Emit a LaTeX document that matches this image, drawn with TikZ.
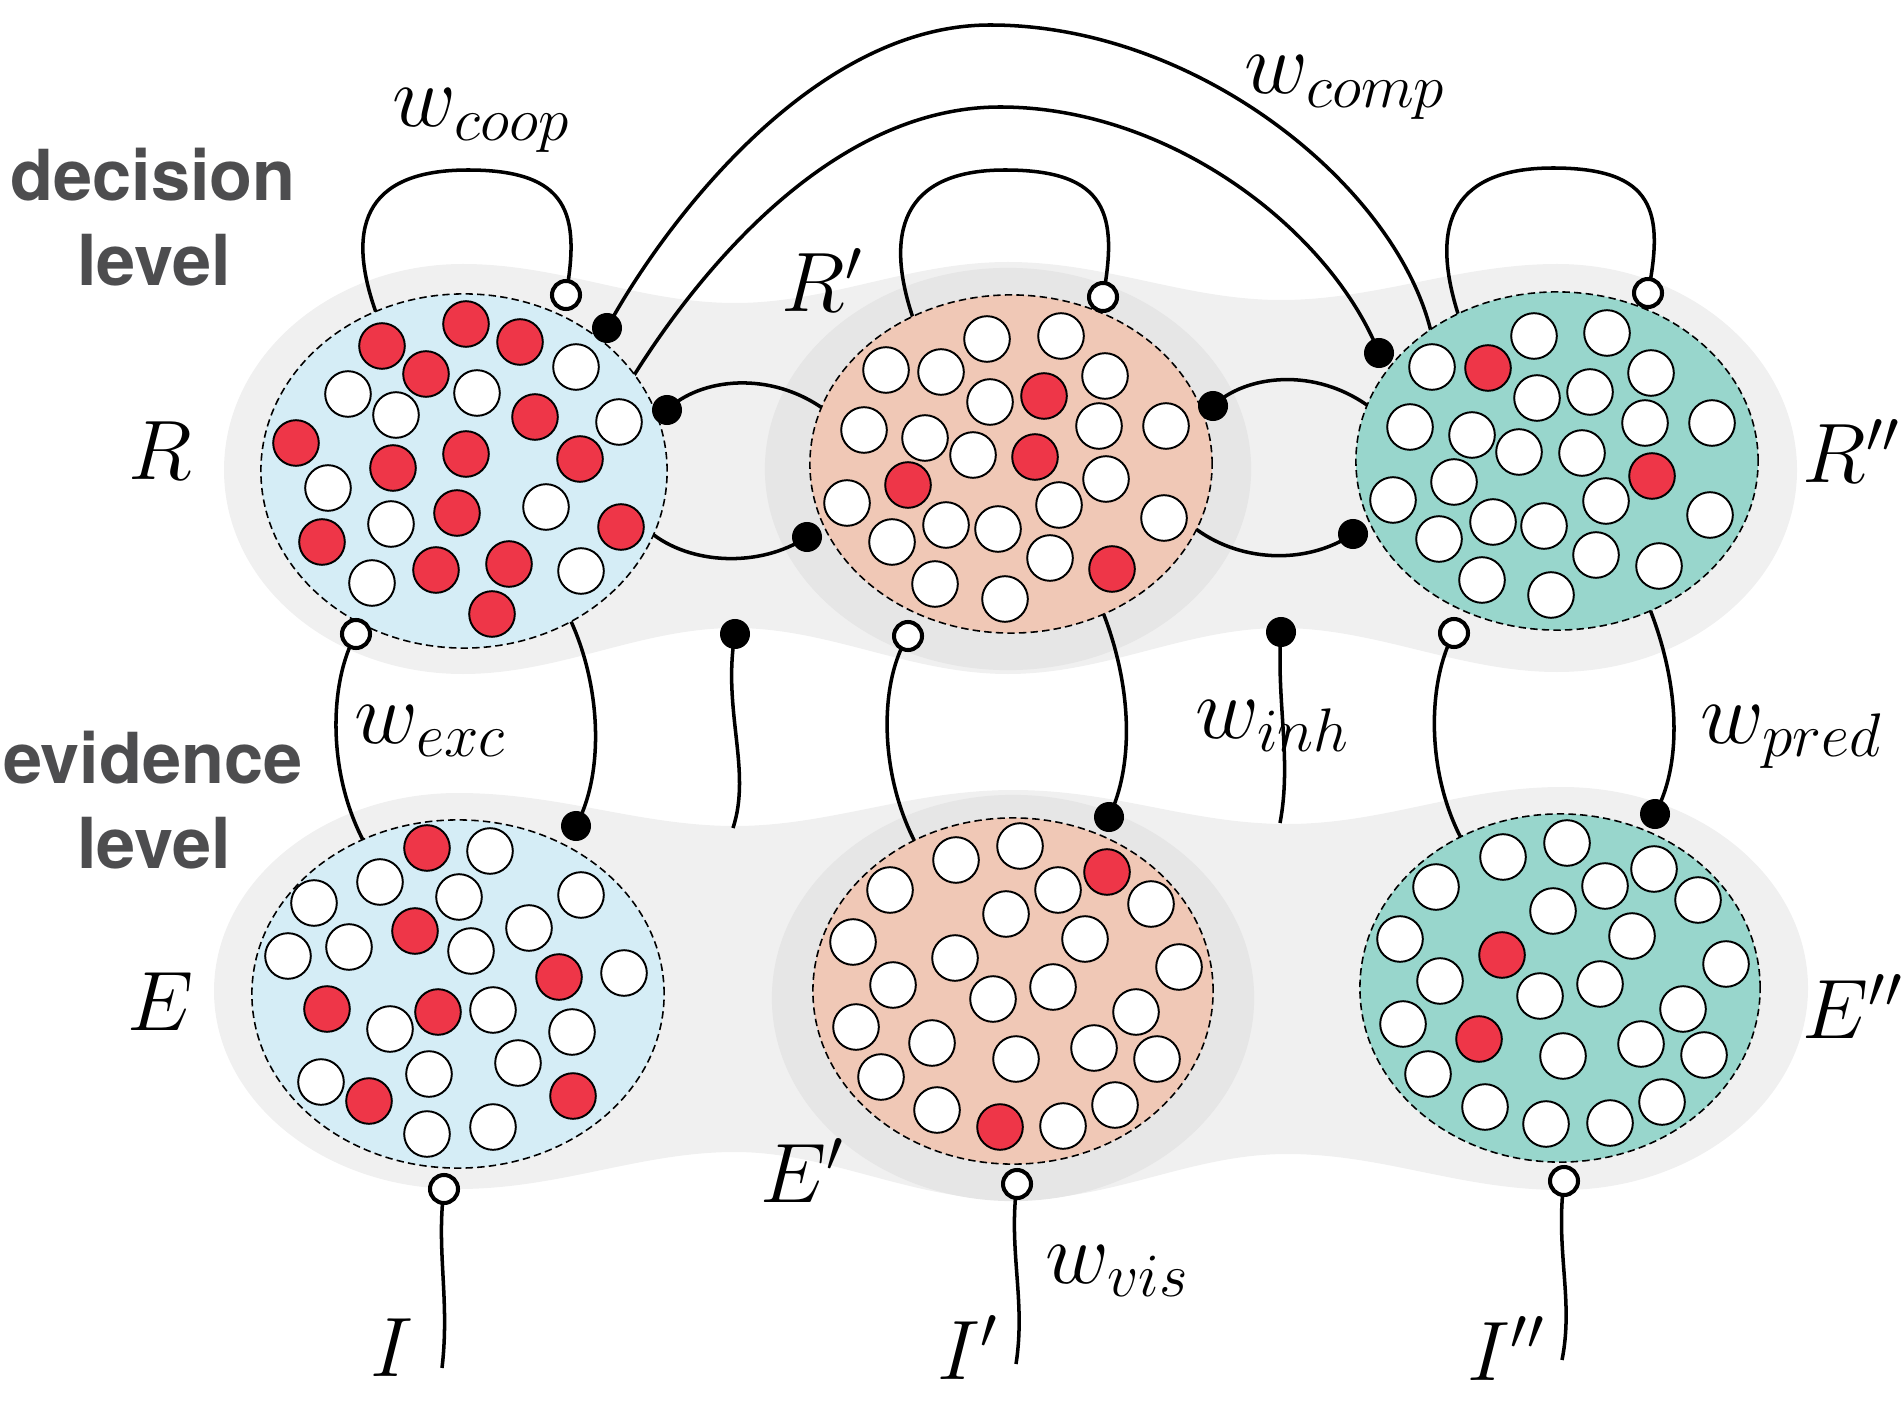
\documentclass[tikz,border=0pt]{standalone}
\usepackage{fix-cm}
\usepackage{fontspec}
\newfontfamily\lvlfont{TeX Gyre Heros}
\usetikzlibrary{shapes.geometric}
\definecolor{lg}{HTML}{F0F0F0}
\definecolor{dg}{HTML}{E6E6E6}
\definecolor{pblue}{HTML}{D5EDF6}
\definecolor{ppeach}{HTML}{F0C8B6}
\definecolor{pteal}{HTML}{98D6CC}
\definecolor{nr}{HTML}{EE3648}
\definecolor{nw}{HTML}{FFFFFF}
\definecolor{lvlgray}{HTML}{4D4D4F}
\tikzset{
  conn/.style={line width=1.0pt},
  oterm/.style={circle, draw=black, fill=white, line width=1.15pt, minimum size=0.28cm, inner sep=0pt},
  bterm/.style={circle, fill=black, minimum size=0.30cm, inner sep=0pt},
  pop/.style={ellipse, draw=black, line width=0.45pt, dash pattern=on 2.1pt off 1.2pt, inner sep=0pt},
  neuron/.style={draw=black, line width=0.55pt},
  lvl/.style={font=\lvlfont\bfseries\fontsize{20}{24}\selectfont, text=lvlgray, inner sep=0pt, anchor=base},
  mlab/.style={anchor=base west, inner sep=0pt, font=\fontsize{24}{28}\selectfont},
  wlab/.style={anchor=base west, inner sep=0pt, font=\fontsize{25}{30}\selectfont}
}
\begin{document}
\begin{tikzpicture}[x=0.01cm, y=-0.01cm]
\useasboundingbox (0,0) rectangle (1904,1416);
% ---------- backgrounds ----------
\fill[lg] (224,470) .. controls (224,356) and (331,264) .. (463,264)
  .. controls (560,264) and (640,303) .. (735,303)
  .. controls (830,303) and (910,262) .. (1008,262)
  .. controls (1106,262) and (1186,300) .. (1281,300)
  .. controls (1376,300) and (1460,264) .. (1557,264)
  .. controls (1689,264) and (1797,357) .. (1797,470)
  .. controls (1797,583) and (1689,672) .. (1557,672)
  .. controls (1460,672) and (1376,628) .. (1281,628)
  .. controls (1186,628) and (1106,674) .. (1008,674)
  .. controls (910,674) and (830,628) .. (735,628)
  .. controls (640,628) and (560,674) .. (463,674)
  .. controls (331,674) and (224,584) .. (224,470) -- cycle;
\fill[lg] (214,991) .. controls (214,882) and (323,793) .. (458,793)
  .. controls (560,793) and (640,826) .. (735,826)
  .. controls (830,826) and (910,790) .. (1013,790)
  .. controls (1116,790) and (1190,824) .. (1287,824)
  .. controls (1384,824) and (1460,787) .. (1562,787)
  .. controls (1698,787) and (1808,877) .. (1808,988)
  .. controls (1808,1099) and (1698,1190) .. (1562,1190)
  .. controls (1460,1190) and (1384,1154) .. (1287,1154)
  .. controls (1190,1154) and (1116,1200) .. (1013,1200)
  .. controls (910,1200) and (830,1152) .. (735,1152)
  .. controls (640,1152) and (560,1189) .. (458,1189)
  .. controls (323,1189) and (214,1100) .. (214,991) -- cycle;
\fill[dg] (1008,469) ellipse [x radius=2.43cm, y radius=2.01cm];
\fill[dg] (1013,998) ellipse [x radius=2.41cm, y radius=2.03cm];
% ---------- coordinates ----------
\coordinate (Rct) at (566,295);   \coordinate (Rcb) at (356,634);
\coordinate (Rpct) at (1103,297); \coordinate (Rpcb) at (908,636);
\coordinate (Rppct) at (1648,293); \coordinate (Rppcb) at (1454,633);
\coordinate (Ec) at (444,1189); \coordinate (Epc) at (1017,1184); \coordinate (Eppc) at (1564,1181);
\coordinate (Rd1) at (607,328); \coordinate (Rd2) at (667,410);
\coordinate (Rpd1) at (807,537); \coordinate (Rpd2) at (1213,406);
\coordinate (Rppd1) at (1379,353); \coordinate (Rppd2) at (1353,534);
\coordinate (Ed) at (576,826); \coordinate (Epd) at (1109,817); \coordinate (Eppd) at (1655,814);
\coordinate (inh1) at (735,634); \coordinate (inh2) at (1281,632);
\coordinate (Rlin) at (378,318); \coordinate (Rplin) at (913,318); \coordinate (Rpplin) at (1460,320);
\coordinate (Rout1) at (625,390); \coordinate (Rppin1) at (1432,336);
\coordinate (Rpin1) at (825,410); \coordinate (Rout2) at (650,532);
\coordinate (Rppin2) at (1371,408); \coordinate (Rpout2) at (1192,526);
\coordinate (Rout3) at (568,615); \coordinate (Rpout3) at (1102,610); \coordinate (Rppout3) at (1649,607);
\coordinate (Ein1) at (364,842); \coordinate (Epin1) at (915,842); \coordinate (Eppin1) at (1462,840);
\coordinate (inh1end) at (733,828); \coordinate (inh2end) at (1280,823);
\coordinate (Iend) at (442,1368); \coordinate (Ipend) at (1016,1364); \coordinate (Ippend) at (1562,1360);
% ---------- connectors ----------
\draw[conn] (Rlin) .. controls (345,230) and (362,170) .. (468,170) .. controls (570,170) and (580,215) .. (Rct);
\draw[conn] (Rplin) .. controls (885,235) and (900,170) .. (1005,170) .. controls (1108,170) and (1118,215) .. (Rpct);
\draw[conn] (Rpplin) .. controls (1430,230) and (1447,168) .. (1553,168) .. controls (1655,168) and (1664,212) .. (Rppct);
\draw[conn] (Rd1) .. controls (660,230) and (810,25) .. (990,25) .. controls (1200,25) and (1400,190) .. (Rppin1);
\draw[conn] (Rout1) .. controls (682,295) and (820,107) .. (1000,107) .. controls (1170,107) and (1330,230) .. (Rppd1);
\draw[conn] (Rd2) .. controls (700,378) and (770,370) .. (Rpin1);
\draw[conn] (Rout2) .. controls (690,565) and (760,568) .. (Rpd1);
\draw[conn] (Rpd2) .. controls (1245,375) and (1315,366) .. (Rppin2);
\draw[conn] (Rpout2) .. controls (1237,562) and (1305,566) .. (Rppd2);
\draw[conn] (Rcb) .. controls (330,680) and (326,770) .. (Ein1);
\draw[conn] (Rout3) .. controls (600,680) and (606,770) .. (Ed);
\draw[conn] (Rpcb) .. controls (880,680) and (878,770) .. (Epin1);
\draw[conn] (Rpout3) .. controls (1130,680) and (1136,760) .. (Epd);
\draw[conn] (Rppcb) .. controls (1428,680) and (1425,770) .. (Eppin1);
\draw[conn] (Rppout3) .. controls (1678,680) and (1684,760) .. (Eppd);
\draw[conn] (inh1) .. controls (722,710) and (752,770) .. (inh1end);
\draw[conn] (inh2) .. controls (1276,700) and (1292,760) .. (inh2end);
\draw[conn] (Ec) .. controls (436,1250) and (450,1300) .. (Iend);
\draw[conn] (Epc) .. controls (1008,1250) and (1026,1300) .. (Ipend);
\draw[conn] (Eppc) .. controls (1555,1250) and (1574,1300) .. (Ippend);
% ---------- populations ----------
\node[pop, fill=pblue, minimum width=4.06cm, minimum height=3.54cm] (R) at (464,471) {};
\node[pop, fill=ppeach, minimum width=4.02cm, minimum height=3.38cm] (Rp) at (1011,464) {};
\node[pop, fill=pteal, minimum width=4.02cm, minimum height=3.38cm] (Rpp) at (1557,461) {};
\node[pop, fill=pblue, minimum width=4.12cm, minimum height=3.48cm] (E) at (458,994) {};
\node[pop, fill=ppeach, minimum width=4.00cm, minimum height=3.46cm] (Ep) at (1013,991) {};
\node[pop, fill=pteal, minimum width=4.00cm, minimum height=3.48cm] (Epp) at (1560,988) {};
% neurons
\foreach \x/\y/\c in {382/346/r, 466/324/r, 520/342/r, 426/374/r, 576/367/w, 348/394/w, 396/415/w, 477/393/w, 535/417/r, 619/422/w, 296/443/r, 393/468/r, 466/454/r, 580/459/r, 328/488/w, 391/524/w, 457/513/r, 546/507/w, 621/527/r, 322/542/r, 372/583/w, 436/570/r, 509/564/r, 581/571/w, 492/614/r,
 987/339/w, 1061/336/w, 886/370/w, 941/372/w, 1105/376/w, 990/402/w, 1044/396/r, 864/430/w, 925/438/w, 973/455/w, 1035/457/r, 1099/426/w, 1166/426/w, 908/485/r, 847/503/w, 1106/479/w, 1059/505/w, 1164/518/w, 946/525/w, 998/529/w, 892/542/w, 1050/558/w, 1112/569/r, 935/584/w, 1005/599/w,
 1534/336/w, 1607/333/w, 1432/367/w, 1488/368/r, 1651/373/w, 1537/398/w, 1590/392/w, 1410/427/w, 1472/435/w, 1519/452/w, 1582/453/w, 1645/423/w, 1712/423/w, 1454/482/w, 1393/500/w, 1652/476/r, 1606/501/w, 1710/515/w, 1493/522/w, 1544/526/w, 1439/539/w, 1596/555/w, 1659/566/w, 1482/580/w, 1551/595/w,
 427/848/r, 490/851/w, 380/882/w, 314/903/w, 459/897/w, 581/895/w, 415/931/r, 288/956/w, 349/947/w, 471/951/w, 529/928/w, 559/977/r, 624/973/w, 327/1009/r, 390/1029/w, 438/1012/r, 493/1010/w, 572/1032/w, 518/1063/w, 321/1082/w, 369/1101/r, 429/1074/w, 573/1096/r, 427/1134/w, 493/1127/w,
 1020/846/w, 956/860/w, 890/890/w, 1058/890/w, 1107/872/r, 1151/904/w, 1006/914/w, 853/942/w, 955/958/w, 1085/939/w, 1179/967/w, 893/985/w, 993/999/w, 1053/987/w, 1136/1012/w, 856/1027/w, 932/1043/w, 1016/1059/w, 1094/1048/w, 1157/1059/w, 881/1077/w, 937/1110/w, 1000/1127/r, 1063/1126/w, 1115/1105/w,
 1567/843/w, 1503/857/w, 1436/887/w, 1605/886/w, 1654/869/w, 1698/900/w, 1553/911/w, 1400/939/w, 1502/955/r, 1632/936/w, 1726/964/w, 1440/981/w, 1540/996/w, 1600/984/w, 1683/1009/w, 1403/1024/w, 1479/1039/r, 1563/1056/w, 1641/1044/w, 1704/1055/w, 1428/1074/w, 1485/1107/w, 1546/1124/w, 1610/1123/w, 1662/1102/w}
  \filldraw[neuron, fill=n\c] (\x,\y) circle [radius=0.228cm];
% ---------- terminals ----------
\foreach \n in {Rct,Rcb,Rpct,Rpcb,Rppct,Rppcb,Ec,Epc,Eppc}
  \node[oterm] (\n-t) at (\n) {};
\foreach \n in {Rd1,Rd2,Rpd1,Rpd2,Rppd1,Rppd2,Ed,Epd,Eppd,inh1,inh2}
  \node[bterm] (\n-t) at (\n) {};
% ---------- labels ----------
\node[lvl] (dec1) at (153,201) {decision};
\node[lvl] (dec2) at (154,286) {level};
\node[lvl] (evi1) at (153,783) {evidence};
\node[lvl] (evi2) at (154,868) {level};
\node[mlab] (lR) at (128,480) {$R$};
\node[mlab] (lRp) at (781,312) {$R'$};
\node[mlab] (lRpp) at (1802,483) {$R''$};
\node[mlab] (lE) at (127,1030) {$E$};
\node[mlab] (lEp) at (760,1202) {$E'$};
\node[mlab] (lEpp) at (1802,1038) {$E''$};
\node[mlab] (lI) at (370,1376) {$I$};
\node[mlab] (lIp) at (937,1379) {$I'$};
\node[mlab] (lIpp) at (1467,1380) {$I''$};
\node[wlab] (wcoop) at (392,127) {$w_{coop}$};
\node[wlab] (wcomp) at (1244,94) {$w_{comp}$};
\node[wlab] (wexc) at (354,743) {$w_{exc}$};
\node[wlab] (winh) at (1195,738) {$w_{inh}$};
\node[wlab] (wpred) at (1700,743) {$w_{pred}$};
\node[wlab] (wvis) at (1045,1283) {$w_{vis}$};
\end{tikzpicture}
\end{document}
